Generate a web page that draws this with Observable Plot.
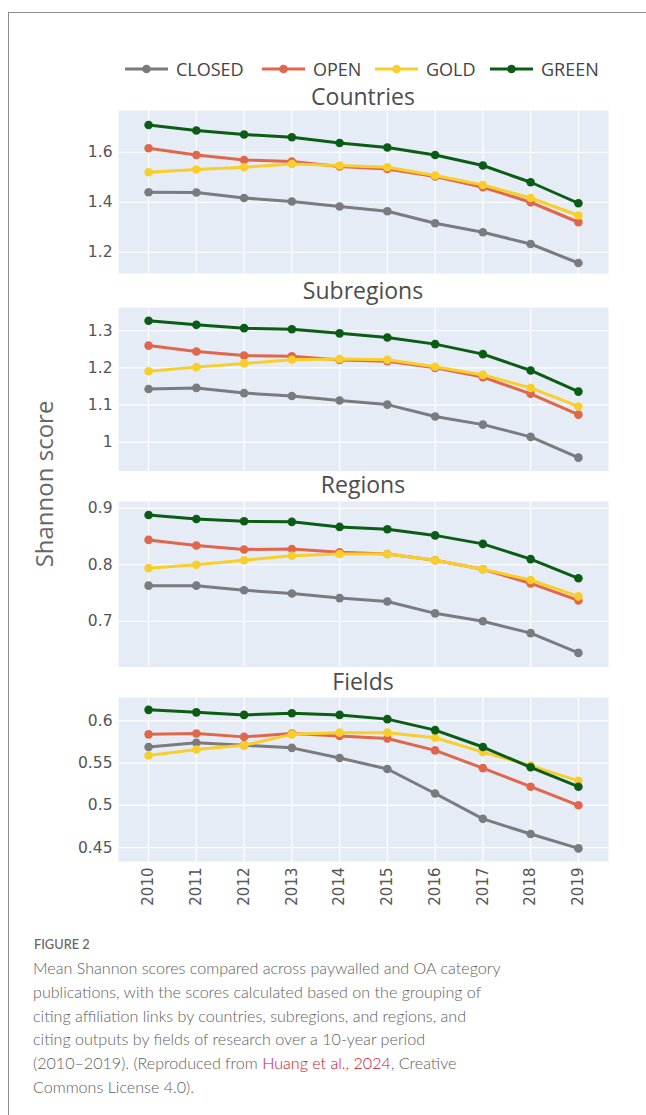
<!DOCTYPE html>
<html><head><meta charset="utf-8">
<script src="https://cdn.jsdelivr.net/npm/d3@7"></script>
<script src="https://cdn.jsdelivr.net/npm/@observablehq/plot@0.6"></script>
<style>
html,body{margin:0;padding:0;background:#fff;width:646px;height:1115px;overflow:hidden;position:relative;}
#frame{position:absolute;left:8px;top:12px;width:800px;height:1200px;border-left:1.5px solid #8c8c8c;border-top:1.5px solid #8c8c8c;}
.panel{position:absolute;left:0;}
#overlay{position:absolute;left:0;top:0;}
#figlabel{position:absolute;left:34px;top:936px;font-family:Lato,"Open Sans",sans-serif;font-size:12.8px;font-weight:500;color:#666;}
#caption{position:absolute;left:33px;top:956px;font-family:Lato,"Open Sans",sans-serif;font-size:16.1px;line-height:23.8px;color:#5e5e5e;white-space:nowrap;font-weight:300;}
#caption a{color:#d4101f;text-decoration:none;}
</style></head><body>
<div id="frame"></div>
<div id="charts"></div>
<svg id="overlay" width="646" height="930"></svg>
<div id="figlabel">FIGURE 2</div>
<div id="caption">Mean Shannon scores compared across paywalled and OA category<br>publications, with the scores calculated based on the grouping of<br>citing affiliation links by countries, subregions, and regions, and<br>citing outputs by fields of research over a 10-year period<br>(2010–2019). (Reproduced from <a>Huang et al., 2024</a>, Creative<br>Commons License 4.0).</div>
<script>
const years = [2010, 2011, 2012, 2013, 2014, 2015, 2016, 2017, 2018, 2019];
const seriesNames = ["CLOSED", "OPEN", "GOLD", "GREEN"];
const seriesColors = ["#7a7a7f", "#e0664c", "#f8cf2a", "#0b5c14"];
const panelTitles = ["Countries", "Subregions", "Regions", "Fields"];
const yAxisTitle = "Shannon score";

const countriesClosed = [1.440, 1.439, 1.417, 1.403, 1.383, 1.364, 1.316, 1.280, 1.233, 1.157];
const countriesOpen   = [1.616, 1.589, 1.569, 1.563, 1.543, 1.533, 1.503, 1.460, 1.400, 1.320];
const countriesGold   = [1.520, 1.531, 1.540, 1.553, 1.547, 1.540, 1.507, 1.469, 1.417, 1.347];
const countriesGreen  = [1.709, 1.687, 1.671, 1.660, 1.637, 1.619, 1.589, 1.547, 1.480, 1.396];

const subregionsClosed = [1.143, 1.146, 1.132, 1.124, 1.112, 1.101, 1.069, 1.047, 1.014, 0.958];
const subregionsOpen   = [1.260, 1.244, 1.233, 1.231, 1.221, 1.218, 1.200, 1.175, 1.130, 1.074];
const subregionsGold   = [1.191, 1.202, 1.212, 1.222, 1.224, 1.222, 1.203, 1.181, 1.146, 1.096];
const subregionsGreen  = [1.327, 1.316, 1.307, 1.304, 1.293, 1.282, 1.264, 1.237, 1.193, 1.136];

const regionsClosed = [0.763, 0.763, 0.755, 0.749, 0.741, 0.735, 0.714, 0.700, 0.679, 0.644];
const regionsOpen   = [0.844, 0.834, 0.827, 0.828, 0.822, 0.819, 0.808, 0.792, 0.767, 0.737];
const regionsGold   = [0.794, 0.800, 0.808, 0.816, 0.819, 0.819, 0.808, 0.792, 0.773, 0.744];
const regionsGreen  = [0.888, 0.881, 0.877, 0.876, 0.867, 0.863, 0.852, 0.837, 0.810, 0.776];

const fieldsClosed = [0.569, 0.574, 0.571, 0.568, 0.556, 0.543, 0.514, 0.484, 0.466, 0.449];
const fieldsOpen   = [0.584, 0.585, 0.581, 0.585, 0.582, 0.579, 0.565, 0.544, 0.522, 0.500];
const fieldsGold   = [0.559, 0.566, 0.571, 0.584, 0.586, 0.586, 0.580, 0.563, 0.547, 0.529];
const fieldsGreen  = [0.613, 0.610, 0.607, 0.609, 0.607, 0.602, 0.589, 0.569, 0.545, 0.522];

const countriesTicks = [1.2, 1.4, 1.6];
const subregionsTicks = [1, 1.1, 1.2, 1.3];
const regionsTicks = [0.7, 0.8, 0.9];
const fieldsTicks = [0.45, 0.5, 0.55, 0.6];

const panels = [
  {values: [countriesClosed, countriesOpen, countriesGold, countriesGreen], ticks: countriesTicks, domain: [1.115, 1.767], top: 110, h: 163, xgrid: years, titleY: 105},
  {values: [subregionsClosed, subregionsOpen, subregionsGold, subregionsGreen], ticks: subregionsTicks, domain: [0.922, 1.3627], top: 307, h: 163.5, xgrid: years.filter((d, i) => i % 2 === 0), titleY: 299},
  {values: [regionsClosed, regionsOpen, regionsGold, regionsGreen], ticks: regionsTicks, domain: [0.619, 0.912], top: 501, h: 165.5, xgrid: years.filter((d, i) => i % 2 === 0), titleY: 493},
  {values: [fieldsClosed, fieldsOpen, fieldsGold, fieldsGreen], ticks: fieldsTicks, domain: [0.4335, 0.6276], top: 697, h: 164, xgrid: years, titleY: 690, last: true}
];

const charts = document.getElementById("charts");
const fmt = d => String(+d.toFixed(2));

panels.forEach(p => {
  const marks = [
    Plot.frame({fill: "#E5ECF6", stroke: null}),
    Plot.gridY(p.ticks, {stroke: "white", strokeOpacity: 1, strokeWidth: 1.2}),
    Plot.gridX(p.xgrid, {stroke: "white", strokeOpacity: 1, strokeWidth: 1.2}),
    Plot.axisY(p.ticks, {tickSize: 0, tickPadding: 6, fontSize: 15.5, fill: "#555", tickFormat: fmt, label: null})
  ];
  if (p.last) {
    marks.push(Plot.axisX(years, {tickSize: 0, tickPadding: 6, tickRotate: -90, fontSize: 15, fill: "#555", tickFormat: d => String(d), label: null}));
  }
  seriesNames.forEach((s, i) => {
    const data = years.map((y, j) => ({year: y, value: p.values[i][j], series: s}));
    marks.push(Plot.line(data, {x: "year", y: "value", stroke: seriesColors[i], strokeWidth: 3}));
    marks.push(Plot.dot(data, {x: "year", y: "value", fill: seriesColors[i], r: 4.3, stroke: "none"}));
  });
  const svg = Plot.plot({
    width: 646,
    height: p.h + (p.last ? 60 : 0),
    marginLeft: 118, marginRight: 38, marginTop: 0, marginBottom: p.last ? 60 : 0,
    x: {domain: [2009.37, 2019.63], label: null, axis: p.last ? undefined : null},
    y: {domain: p.domain, label: null},
    style: {fontFamily: "DejaVu Sans", background: "transparent", overflow: "visible"},
    marks
  });
  const div = document.createElement("div");
  div.className = "panel";
  div.style.top = p.top + "px";
  div.appendChild(svg);
  charts.appendChild(div);
});

// overlay texts: legend, titles, y-axis title
const ov = d3.select("#overlay");
const legendX = [125, 262, 375, 490];
seriesNames.forEach((s, i) => {
  const x0 = legendX[i];
  ov.append("line").attr("x1", x0).attr("x2", x0 + 43).attr("y1", 69).attr("y2", 69)
    .attr("stroke", seriesColors[i]).attr("stroke-width", 3);
  ov.append("circle").attr("cx", x0 + 21.5).attr("cy", 69).attr("r", 4.3).attr("fill", seriesColors[i]);
  ov.append("text").attr("x", x0 + 51).attr("y", 75.5).text(s)
    .attr("font-family", "Open Sans").attr("font-size", 18).attr("fill", "#444");
});
panels.forEach((p, i) => {
  ov.append("text").attr("x", 363).attr("y", p.titleY).attr("text-anchor", "middle")
    .attr("font-family", "Open Sans").attr("font-size", 23).attr("fill", "#4d4d4d").text(panelTitles[i]);
});
ov.append("text").attr("transform", "translate(53,484) rotate(-90)").attr("text-anchor", "middle")
  .attr("font-family", "Open Sans").attr("font-size", 24).attr("fill", "#666").text(yAxisTitle);
</script>
</body></html>
